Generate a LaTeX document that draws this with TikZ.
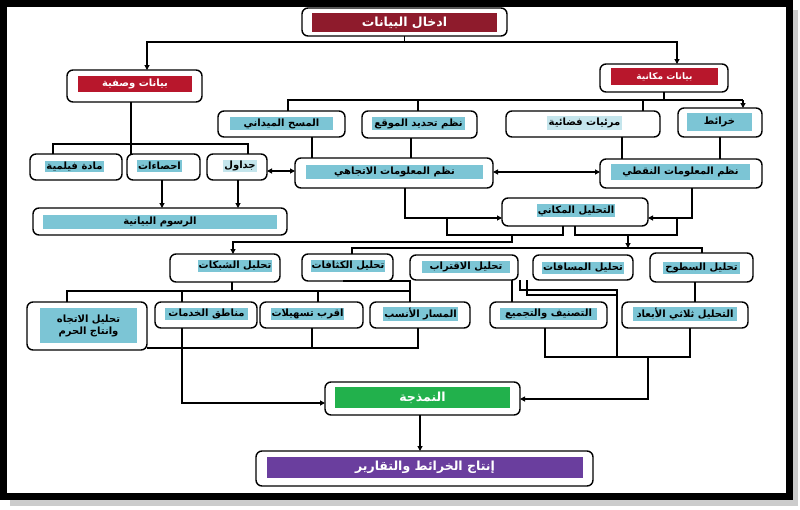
\documentclass[tikz,border=0pt]{standalone}
\usepackage{fontspec}
\usetikzlibrary{arrows.meta}
\TeXXeTstate=1
\newfontfamily\arabicfont[Script=Arabic]{DejaVu Sans}
\newcommand\ar[1]{{\arabicfont\bfseries\beginR #1\endR}}
\definecolor{maroonc}{HTML}{8E1B2C}
\definecolor{redc}{HTML}{B8172C}
\definecolor{cyanc}{HTML}{7CC5D5}
\definecolor{greenc}{HTML}{22B14C}
\definecolor{purplec}{HTML}{6A3E9E}
\newcommand\bx[5]{\node[obox, minimum width={#4-#2}, minimum height={#5-#3}] (#1) at ({(#2+#4)/2},{(#3+#5)/2}) {};}
\newcommand\ib[7]{\node[#6, minimum width={#4-#2}, minimum height={#5-#3}] (#1) at ({(#2+#4)/2},{(#3+#5)/2}) {#7};}
\begin{document}
\begin{tikzpicture}[x=1pt,y=-1pt,
  obox/.style={draw=black, line width=1.4pt, rounded corners=6pt, fill=white, inner sep=0pt, outer sep=0pt},
  ibox/.style={inner sep=1pt, outer sep=0pt, align=center, font=\fontsize{10}{12}\selectfont},
  big/.style={font=\fontsize{12.5}{14}\selectfont},
  small/.style={font=\fontsize{9}{11}\selectfont},
  cy/.style={ibox, fill=cyanc, text=black},
  cyl/.style={ibox, fill=cyanc!45, text=black},
  mr/.style={ibox, big, fill=maroonc, text=white},
  rd/.style={ibox, fill=redc, text=white},
  rds/.style={ibox, small, fill=redc, text=white},
  gr/.style={ibox, big, fill=greenc, text=white},
  pu/.style={ibox, big, fill=purplec, text=white},
  conn/.style={line width=1.1pt, black},
  arr/.style={conn, -{Triangle[length=5pt,width=5pt]}},
  darr/.style={conn, {Triangle[length=5pt,width=5pt]}-{Triangle[length=5pt,width=5pt]}}
]
\useasboundingbox (0,0) rectangle (800,509);
% frame and shadow
\fill[gray!40] (10,10) rectangle (798,506);
\fill[white] (3.5,3.5) rectangle (789.5,496.5);
\draw[line width=6.5pt] (3.5,3.5) rectangle (789.5,496.5);

% boxes
\bx{top}{302}{8}{507}{36} \ib{top-i}{312}{13}{497}{32}{mr}{\ar{ادخال البيانات}}
\bx{desc}{67}{70}{202}{102} \ib{desc-i}{78}{76}{192}{92}{rd}{\ar{بيانات وصفية}}
\bx{spat}{600}{64}{728}{92} \ib{spat-i}{611}{68}{718}{85}{rds}{\ar{بيانات مكانية}}

\bx{survey}{218}{111}{345}{137} \ib{survey-i}{230}{117}{333}{130}{cy}{\ar{المسح الميداني}}
\bx{gps}{362}{111}{477}{138} \ib{gps-i}{372}{117}{465}{130}{cy}{\ar{نظم تحديد الموقع}}
\bx{sat}{506}{111}{660}{137} \ib{sat-i}{547}{116}{622}{130}{cyl}{\ar{مرئيات فضائية}}
\bx{maps}{678}{108}{762}{137} \ib{maps-i}{687}{113}{752}{131}{cy}{\ar{خرائط}}

\bx{film}{30}{154}{122}{180} \ib{film-i}{47}{161}{102}{172}{cy}{\ar{مادة فيلمية}}
\bx{stats}{127}{154}{200}{180} \ib{stats-i}{137}{160}{182}{172}{cy}{\ar{احصاءات}}
\bx{tables}{207}{154}{267}{180} \ib{tables-i}{227}{160}{253}{172}{cyl}{\ar{جداول}}
\bx{vector}{295}{158}{493}{188} \ib{vector-i}{306}{165}{483}{179}{cy}{\ar{نظم المعلومات الاتجاهي}}
\bx{raster}{600}{159}{762}{188} \ib{raster-i}{611}{164}{750}{180}{cy}{\ar{نظم المعلومات النقطي}}

\bx{charts}{33}{208}{287}{235} \ib{charts-i}{43}{215}{277}{229}{cy}{\ar{الرسوم البيانية}}
\bx{spanal}{502}{198}{648}{226} \ib{spanal-i}{540}{204}{612}{217}{cy}{\ar{التحليل المكاني}}

\bx{network}{170}{254}{280}{282} \ib{network-i}{200}{260}{270}{272}{cy}{\ar{تحليل الشبكات}}
\bx{density}{302}{254}{393}{281} \ib{density-i}{313}{260}{383}{272}{cy}{\ar{تحليل الكثافات}}
\bx{proximity}{410}{255}{518}{280} \ib{proximity-i}{422}{261}{510}{273}{cy}{\ar{تحليل الاقتراب}}
\bx{distance}{533}{255}{633}{280} \ib{distance-i}{543}{262}{623}{274}{cy}{\ar{تحليل المسافات}}
\bx{surface}{650}{253}{753}{282} \ib{surface-i}{663}{262}{740}{274}{cy}{\ar{تحليل السطوح}}

\bx{direction}{27}{302}{147}{350} \ib{direction-i}{40}{308}{137}{343}{cy}{\ar{تحليل الاتجاه}\\\ar{وانتاج الحرم}}
\bx{service}{155}{302}{257}{328} \ib{service-i}{165}{308}{248}{320}{cy}{\ar{مناطق الخدمات}}
\bx{nearest}{260}{302}{363}{328} \ib{nearest-i}{282}{308}{333}{320}{cy}{\ar{اقرب تسهيلات}}
\bx{route}{370}{302}{470}{328} \ib{route-i}{388}{308}{453}{320}{cy}{\ar{المسار الأنسب}}
\bx{classify}{490}{302}{607}{328} \ib{classify-i}{500}{308}{597}{320}{cy}{\ar{التصنيف والتجميع}}
\bx{threeD}{622}{302}{748}{328} \ib{threeD-i}{633}{308}{737}{320}{cy}{\ar{التحليل ثلاثي الأبعاد}}

\bx{model}{325}{382}{520}{415} \ib{model-i}{335}{387}{510}{408}{gr}{\ar{النمذجة}}
\bx{output}{256}{451}{593}{486} \ib{output-i}{267}{457}{583}{478}{pu}{\ar{إنتاج الخرائط والتقارير}}

% connectors
\draw[arr] (top.south) -- (404.5,42) -| (147,0 |- desc.north);
\draw[arr] (top.south) -- (404.5,42) -| (677,0 |- spat.north);
\draw[conn] (spat.south) -- (664,100);
\draw[conn] (288,0 |- survey.north) -- (288,100) -- (743,100);
\draw[conn] (418,100) -- (418,0 |- gps.north);
\draw[conn] (643,100) -- (643,0 |- sat.north);
\draw[arr] (743,100) -- (743,0 |- maps.north);

\draw[conn] (312,0 |- survey.south) -- (312,0 |- vector.north);
\draw[conn] (411,0 |- gps.south) -- (411,0 |- vector.north);
\draw[conn] (622,0 |- sat.south) -- (622,0 |- raster.north);
\draw[conn] (720,0 |- maps.south) -- (720,0 |- raster.north);

\draw[conn] (131,0 |- desc.south) -- (131,0 |- stats.north);
\draw[conn] (53,0 |- film.north) -- (53,144) -- (248,144) -- (248,0 |- tables.north);
\draw[arr] (162,0 |- stats.south) -- (162,0 |- charts.north);
\draw[arr] (238,0 |- tables.south) -- (238,0 |- charts.north);
\draw[darr] (tables.east |- 0,171) -- (vector.west |- 0,171);
\draw[darr] (vector.east |- 0,172) -- (raster.west |- 0,172);

\draw[arr] (405,0 |- vector.south) |- (spanal.west |- 0,218);
\draw[arr] (692,0 |- raster.south) |- (spanal.east |- 0,218);
\draw[conn] (447,218) -- (447,235) -- (563,235) -- (563,0 |- spanal.south);
\draw[conn] (575,0 |- spanal.south) -- (575,235) -- (677,235) -- (677,218);
\draw[arr] (512,235) -- (512,242) -- (233,242) -- (233,0 |- network.north);
\draw[arr] (628,235) -- (628,248);
\draw[conn] (352,0 |- density.north) -- (352,248) -- (702,248) -- (702,0 |- surface.north);

\draw[conn] (343,0 |- density.south) -- (410,0 |- density.south) -- (410,0 |- route.north);
\draw[conn] (232,0 |- network.south) -- (232,291);
\draw[conn] (67,0 |- direction.north) -- (67,291) -- (410,291);
\draw[conn] (182,291) -- (182,0 |- service.north);
\draw[conn] (318,291) -- (318,0 |- nearest.north);

\draw[conn] (512,0 |- proximity.south) -- (512,0 |- classify.north);
\draw[conn] (520,0 |- proximity.south) -- (520,290) -- (617,290) -- (617,357);
\draw[conn] (527,0 |- distance.south) -- (527,295) -- (617,295);
\draw[conn] (695,0 |- surface.south) -- (695,0 |- threeD.north);
\draw[conn] (545,0 |- classify.south) -- (545,357) -- (690,357) -- (690,0 |- threeD.south);
\draw[arr] (648,357) |- (model.east |- 0,399);

\draw[arr] (182,0 |- service.south) |- (model.west |- 0,403);
\draw[conn] (direction.east |- 0,348) -- (418,348) -- (418,0 |- route.south);
\draw[conn] (312,0 |- nearest.south) -- (312,348);
\draw[arr] (420,0 |- model.south) -- (420,0 |- output.north);
\end{tikzpicture}
\end{document}
